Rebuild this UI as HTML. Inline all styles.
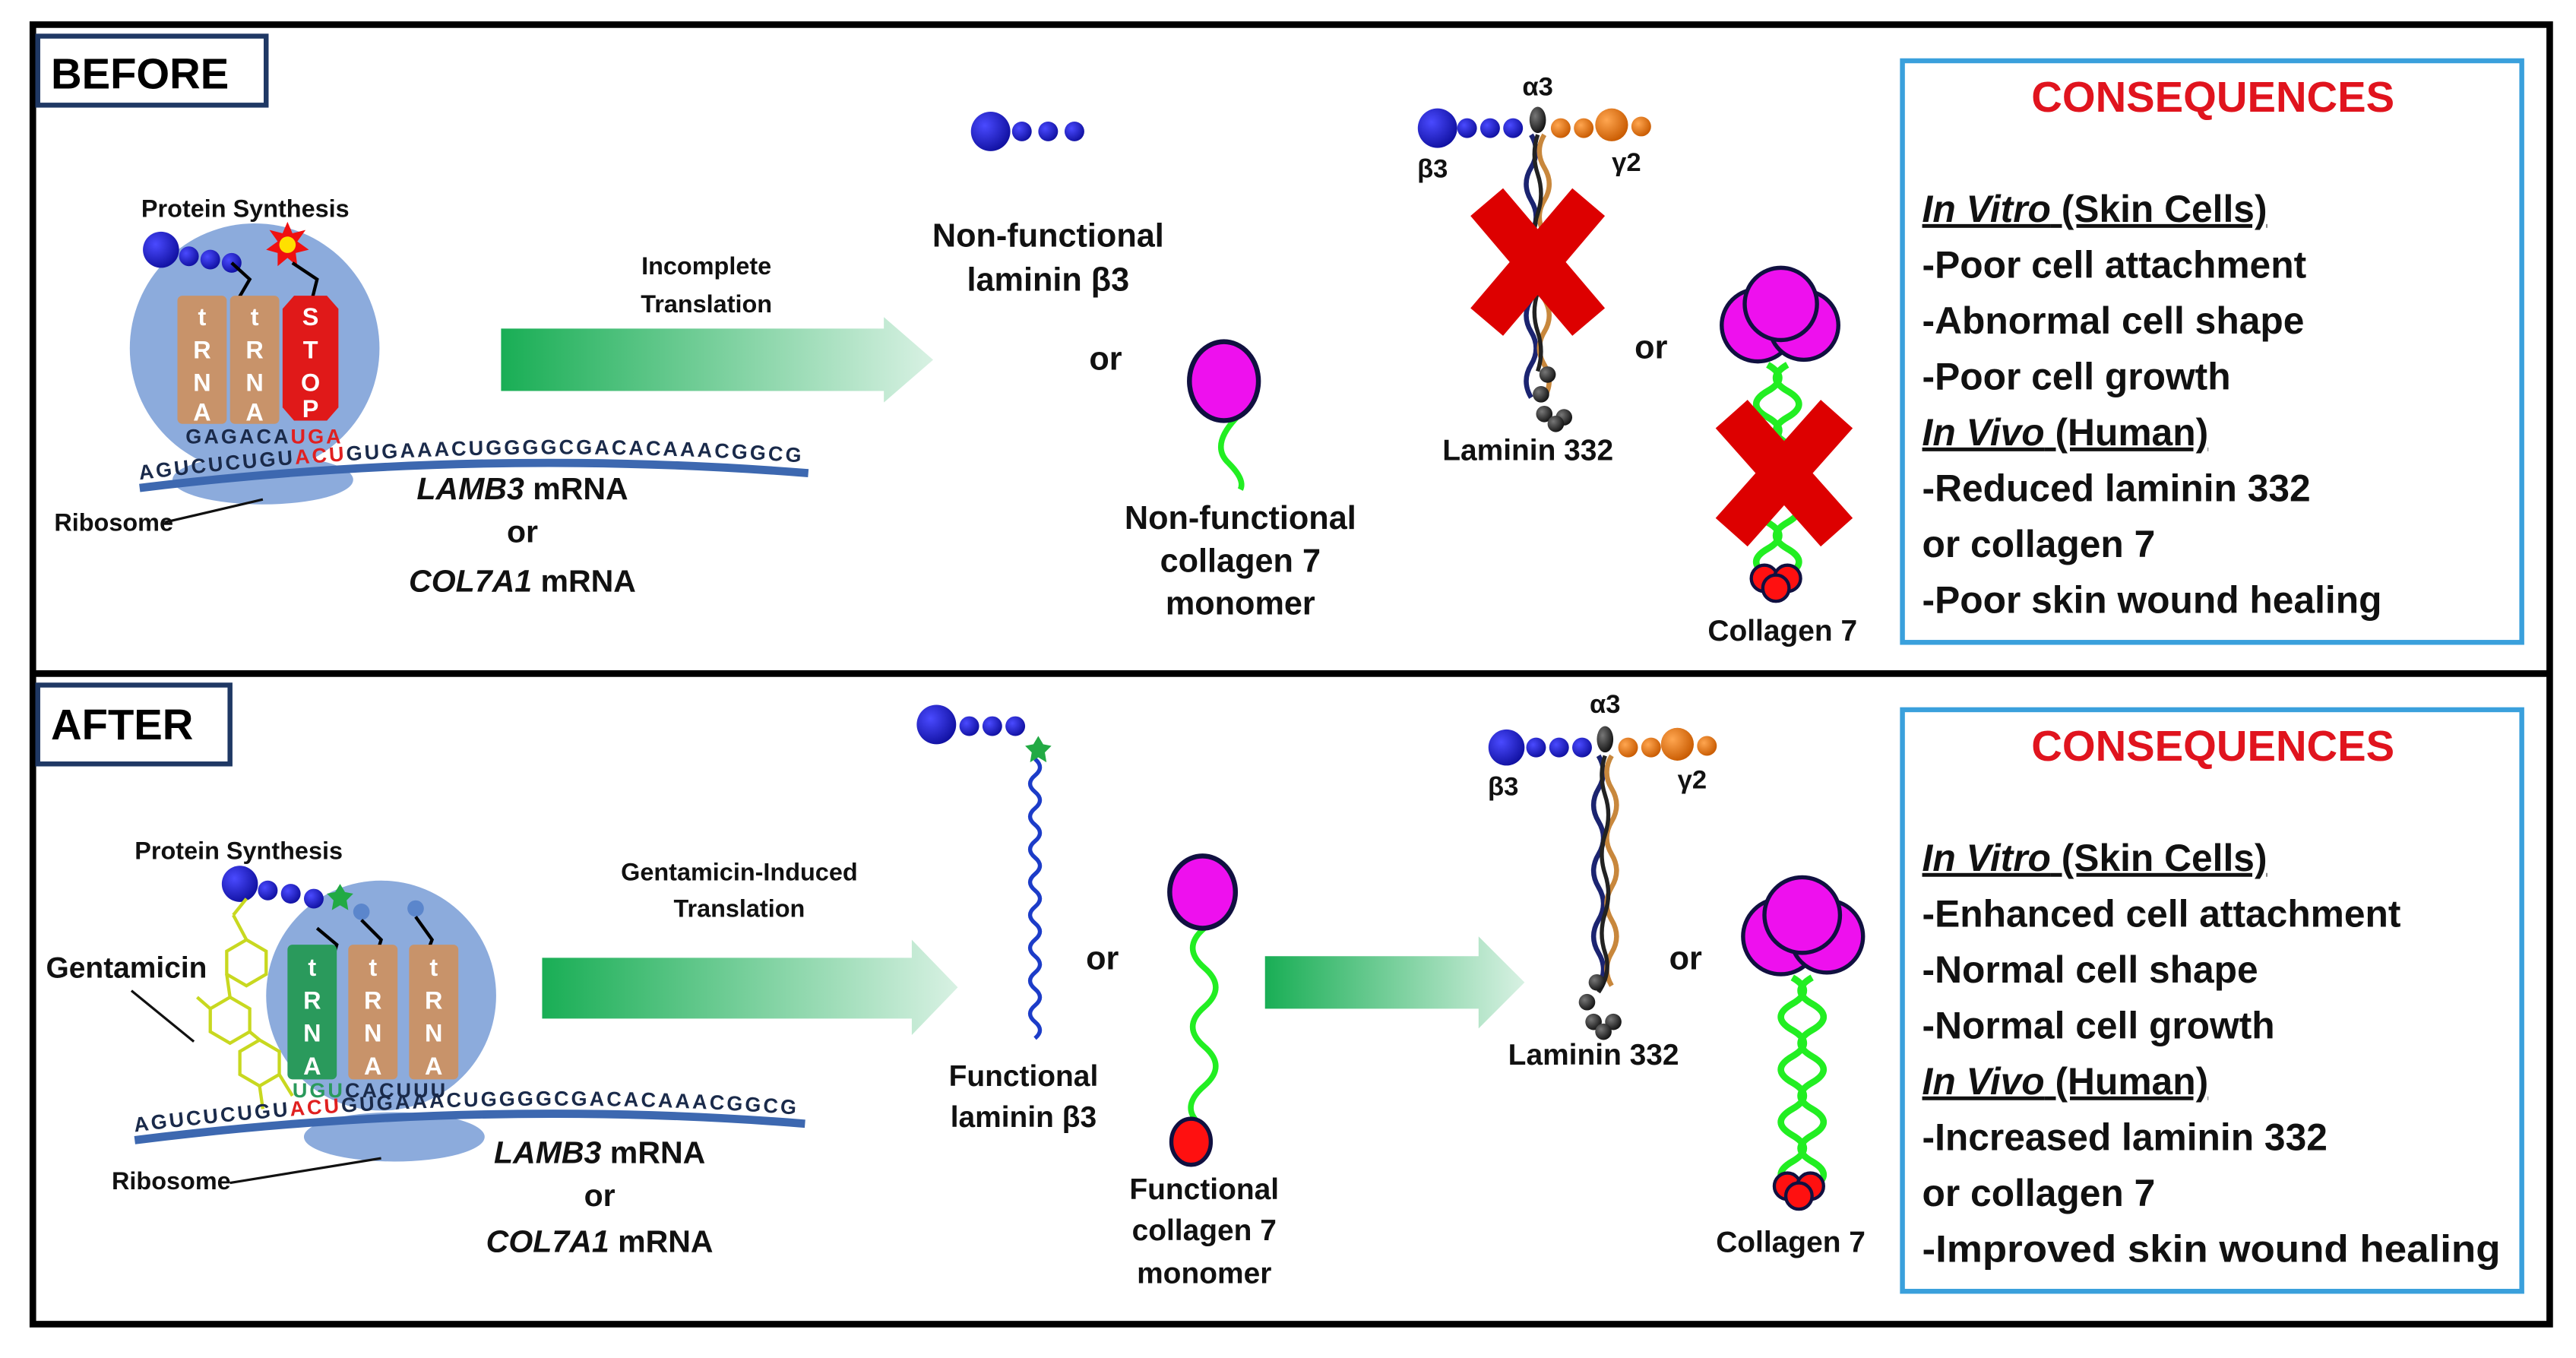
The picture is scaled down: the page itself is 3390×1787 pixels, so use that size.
<!DOCTYPE html>
<html><head><meta charset="utf-8"><style>
html,body{margin:0;padding:0;background:#fff;}
svg{display:block;}
text{font-family:"Liberation Sans",Arial,sans-serif;font-weight:bold;}
.c{font-size:23px;fill:#111;}
.lab{font-size:19px;fill:#111;}
.seq{font-size:12.5px;fill:#1a2a4a;letter-spacing:1.4px;}
.tr{font-size:15px;fill:#fff;font-weight:normal;}
</style></head><body>
<svg width="3390" height="1787" viewBox="0 0 1568 826.6" preserveAspectRatio="none" xmlns="http://www.w3.org/2000/svg">
<defs>
<linearGradient id="g" x1="0" x2="1" y1="0" y2="0"><stop offset="0" stop-color="#19ae55"/><stop offset="1" stop-color="#d8f1e3"/></linearGradient>
<radialGradient id="bb" cx="0.35" cy="0.35" r="0.7"><stop offset="0" stop-color="#4a4aff"/><stop offset="1" stop-color="#1010a0"/></radialGradient>
<radialGradient id="ob" cx="0.35" cy="0.35" r="0.7"><stop offset="0" stop-color="#ffa650"/><stop offset="1" stop-color="#c85a00"/></radialGradient>
<radialGradient id="kb" cx="0.35" cy="0.35" r="0.7"><stop offset="0" stop-color="#777"/><stop offset="1" stop-color="#111"/></radialGradient>
<path id="m1" d="M85,292 Q290,267 495,282"/>
<path id="m2" d="M82,689 Q290,663 493,679"/>
</defs>
<rect width="1568" height="826.6" fill="#fff"/>
<rect x="20" y="15" width="1532" height="791" fill="none" stroke="#000" stroke-width="4"/>
<line x1="20" y1="410" x2="1552" y2="410" stroke="#000" stroke-width="4"/>

<rect x="23" y="22" width="139" height="42" fill="#fff" stroke="#1f3864" stroke-width="3"/>
<text x="31" y="54" font-size="26" fill="#000">BEFORE</text>
<rect x="23" y="417" width="117" height="48" fill="#fff" stroke="#1f3864" stroke-width="3"/>
<text x="31" y="450" font-size="26" fill="#000">AFTER</text>

<rect x="1158" y="37" width="377" height="354" fill="#fff" stroke="#3aa0dc" stroke-width="3"/>
<text x="1347" y="68" font-size="26" fill="#e0141e" text-anchor="middle">CONSEQUENCES</text>
<text class="c" x="1170" y="135" text-decoration="underline"><tspan font-style="italic">In Vitro</tspan> (Skin Cells)</text>
<text class="c" x="1170" y="169">-Poor cell attachment</text>
<text class="c" x="1170" y="203">-Abnormal cell shape</text>
<text class="c" x="1170" y="237">-Poor cell growth</text>
<text class="c" x="1170" y="271" text-decoration="underline"><tspan font-style="italic">In Vivo</tspan> (Human)</text>
<text class="c" x="1170" y="305">-Reduced laminin 332</text>
<text class="c" x="1170" y="339">or collagen 7</text>
<text class="c" x="1170" y="373">-Poor skin wound healing</text>

<rect x="1158" y="432" width="377" height="354" fill="#fff" stroke="#3aa0dc" stroke-width="3"/>
<text x="1347" y="463" font-size="26" fill="#e0141e" text-anchor="middle">CONSEQUENCES</text>
<text class="c" x="1170" y="530" text-decoration="underline"><tspan font-style="italic">In Vitro</tspan> (Skin Cells)</text>
<text class="c" x="1170" y="564">-Enhanced cell attachment</text>
<text class="c" x="1170" y="598">-Normal cell shape</text>
<text class="c" x="1170" y="632">-Normal cell growth</text>
<text class="c" x="1170" y="666" text-decoration="underline"><tspan font-style="italic">In Vivo</tspan> (Human)</text>
<text class="c" x="1170" y="700">-Increased laminin 332</text>
<text class="c" x="1170" y="734">or collagen 7</text>
<text class="c" x="1170" y="768" textLength="352" lengthAdjust="spacingAndGlyphs">-Improved skin wound healing</text>

<circle cx="155" cy="212" r="76" fill="#8cabdc"/>
<ellipse cx="160" cy="292" rx="55" ry="15" fill="#8cabdc"/>
<text x="86" y="132" font-size="15" fill="#111">Protein Synthesis</text>
<circle cx="98" cy="152" r="11" fill="url(#bb)"/><circle cx="115" cy="156" r="6" fill="url(#bb)"/><circle cx="128" cy="158" r="6" fill="url(#bb)"/><circle cx="141" cy="160" r="6" fill="url(#bb)"/>
<polygon points="175,135 178,142 186,140 181,147 188,152 180,154 181,162 175,157 169,162 169,154 162,152 169,147 164,140 172,142" fill="#f01010"/>
<circle cx="175" cy="149" r="5" fill="#ffe000"/>
<polyline points="141,160 152,170 145,182" fill="none" stroke="#000" stroke-width="2"/>
<polyline points="178,160 193,170 190,182" fill="none" stroke="#000" stroke-width="2"/>
<rect x="108" y="180" width="30" height="78" rx="3" fill="#c8936a"/>
<rect x="140" y="180" width="30" height="78" rx="3" fill="#c8936a"/>
<polygon points="179,180 199,180 206,188 206,248 199,256 179,256 172,248 172,188" fill="#e01919"/>
<g class="tr" text-anchor="middle"><text x="123" y="198">t</text><text x="123" y="218">R</text><text x="123" y="238">N</text><text x="123" y="256">A</text>
<text x="155" y="198">t</text><text x="155" y="218">R</text><text x="155" y="238">N</text><text x="155" y="256">A</text>
<text x="189" y="198">S</text><text x="189" y="218">T</text><text x="189" y="238">O</text><text x="189" y="254">P</text></g>
<text class="seq" x="113" y="270">GAGACA<tspan fill="#e02020">UGA</tspan></text>
<path d="M85,297 Q290,272 492,288" fill="none" stroke="#3d68b0" stroke-width="5"/>
<text class="seq"><textPath href="#m1">AGUCUCUGU<tspan fill="#e02020">ACU</tspan>GUGAAACUGGGGCGACACAAACGGCG</textPath></text>
<text x="33" y="323" font-size="15" fill="#111">Ribosome</text>
<line x1="100" y1="318" x2="160" y2="304" stroke="#111" stroke-width="1.5"/>
<text class="lab" x="318" y="304" text-anchor="middle"><tspan font-style="italic">LAMB3</tspan> mRNA</text>
<text class="lab" x="318" y="330" text-anchor="middle">or</text>
<text class="lab" x="318" y="360" text-anchor="middle"><tspan font-style="italic">COL7A1</tspan> mRNA</text>
<polygon points="305,200 538,200 538,193 568,219 538,245 538,238 305,238" fill="url(#g)"/>
<text x="430" y="167" font-size="15" text-anchor="middle" fill="#111">Incomplete</text>
<text x="430" y="190" font-size="15" text-anchor="middle" fill="#111">Translation</text>
<circle cx="603" cy="80" r="12" fill="url(#bb)"/><circle cx="622" cy="80" r="6" fill="url(#bb)"/><circle cx="638" cy="80" r="6" fill="url(#bb)"/><circle cx="654" cy="80" r="6" fill="url(#bb)"/>
<text x="638" y="150" font-size="20" text-anchor="middle" fill="#111">Non-functional</text>
<text x="638" y="177" font-size="20" text-anchor="middle" fill="#111">laminin β3</text>
<text x="673" y="225" font-size="20" text-anchor="middle" fill="#111">or</text>
<path d="M757,250 Q735,270 748,282 Q758,292 755,298" fill="none" stroke="#22ee22" stroke-width="3.5"/>
<ellipse cx="745" cy="232" rx="21" ry="24" fill="#ee10ee" stroke="#101040" stroke-width="3"/>
<text x="755" y="322" font-size="20" text-anchor="middle" fill="#111">Non-functional</text>
<text x="755" y="348" font-size="20" text-anchor="middle" fill="#111">collagen 7</text>
<text x="755" y="374" font-size="20" text-anchor="middle" fill="#111">monomer</text>
<path d="M932,82 q6,10 0,20 t0,20 t0,20 t0,20 t0,20 t0,20 t0,20 t0,20" fill="none" stroke="#1b2470" stroke-width="3"/>
<path d="M940,82 q-6,10 0,20 t0,20 t0,20 t0,20 t0,20 t0,20 t0,20 t0,20" fill="none" stroke="#c8873c" stroke-width="3"/>
<path d="M936,82 q-4,12 0,24 t0,24 t0,24 t0,24 t0,24 t0,24" fill="none" stroke="#222" stroke-width="2.5"/>
<circle cx="942" cy="228" r="5" fill="url(#kb)"/><circle cx="938" cy="240" r="5" fill="url(#kb)"/><circle cx="940" cy="252" r="5" fill="url(#kb)"/><circle cx="952" cy="254" r="5" fill="url(#kb)"/><circle cx="947" cy="258" r="5" fill="url(#kb)"/>
<circle cx="875" cy="78" r="12" fill="url(#bb)"/><circle cx="893" cy="78" r="6" fill="url(#bb)"/><circle cx="907" cy="78" r="6" fill="url(#bb)"/><circle cx="921" cy="78" r="6" fill="url(#bb)"/>
<ellipse cx="936" cy="73" rx="5" ry="8" fill="url(#kb)"/>
<circle cx="950" cy="78" r="6" fill="url(#ob)"/><circle cx="964" cy="78" r="6" fill="url(#ob)"/><circle cx="981" cy="76" r="10" fill="url(#ob)"/><circle cx="999" cy="77" r="6" fill="url(#ob)"/>
<text x="936" y="58" font-size="16" text-anchor="middle" fill="#111">α3</text>
<text x="872" y="108" font-size="16" text-anchor="middle" fill="#111">β3</text>
<text x="990" y="104" font-size="16" text-anchor="middle" fill="#111">γ2</text>
<g stroke="#dd0000" stroke-width="26" stroke-linecap="butt"><line x1="905" y1="123" x2="967" y2="196"/><line x1="967" y1="123" x2="905" y2="196"/></g>
<text x="930" y="280" font-size="18" text-anchor="middle" fill="#111">Laminin 332</text>
<text x="1005" y="218" font-size="20" text-anchor="middle" fill="#111">or</text>
<path d="M1076,222 q14,8 0,16 t0,16 t0,16 t0,16 t0,16 t0,16 t0,16 t0,16" fill="none" stroke="#22ee22" stroke-width="4"/>
<path d="M1088,222 q-14,8 0,16 t0,16 t0,16 t0,16 t0,16 t0,16 t0,16 t0,16" fill="none" stroke="#22ee22" stroke-width="4"/>
<circle cx="1070" cy="198" r="22" fill="#ee10ee" stroke="#101040" stroke-width="2.5"/>
<circle cx="1098" cy="198" r="21" fill="#ee10ee" stroke="#101040" stroke-width="2.5"/>
<circle cx="1084" cy="185" r="22" fill="#ee10ee" stroke="#101040" stroke-width="2.5"/>
<circle cx="1074" cy="352" r="8" fill="#ff1010" stroke="#101040" stroke-width="2"/><circle cx="1088" cy="352" r="8" fill="#ff1010" stroke="#101040" stroke-width="2"/><circle cx="1081" cy="358" r="8" fill="#ff1010" stroke="#101040" stroke-width="2"/>
<g stroke="#dd0000" stroke-width="26"><line x1="1054" y1="252" x2="1118" y2="324"/><line x1="1118" y1="252" x2="1054" y2="324"/></g>
<text x="1085" y="390" font-size="18" text-anchor="middle" fill="#111">Collagen 7</text>

<circle cx="232" cy="606" r="70" fill="#8cabdc"/>
<ellipse cx="240" cy="692" rx="55" ry="15" fill="#8cabdc"/>
<text x="82" y="523" font-size="15" fill="#111">Protein Synthesis</text>
<circle cx="146" cy="538" r="11" fill="url(#bb)"/><circle cx="163" cy="542" r="6" fill="url(#bb)"/><circle cx="177" cy="544" r="6" fill="url(#bb)"/><circle cx="191" cy="547" r="6" fill="url(#bb)"/>
<polygon points="207,538 210,543 215,544 211,548 212,554 207,551 202,554 203,548 199,544 204,543" fill="#22aa44"/>
<circle cx="220" cy="555" r="5" fill="#5b86cc"/><circle cx="253" cy="553" r="5" fill="#5b86cc"/>
<polyline points="193,565 205,575 202,585" fill="none" stroke="#000" stroke-width="2"/>
<polyline points="220,560 232,572 228,585" fill="none" stroke="#000" stroke-width="2"/>
<polyline points="253,558 263,572 258,585" fill="none" stroke="#000" stroke-width="2"/>
<rect x="175" y="575" width="30" height="82" rx="3" fill="#2a9a5c"/>
<rect x="212" y="575" width="30" height="82" rx="3" fill="#c8936a"/>
<rect x="249" y="575" width="30" height="82" rx="3" fill="#c8936a"/>
<g class="tr" text-anchor="middle"><text x="190" y="594">t</text><text x="190" y="614">R</text><text x="190" y="634">N</text><text x="190" y="654">A</text>
<text x="227" y="594">t</text><text x="227" y="614">R</text><text x="227" y="634">N</text><text x="227" y="654">A</text>
<text x="264" y="594">t</text><text x="264" y="614">R</text><text x="264" y="634">N</text><text x="264" y="654">A</text></g>
<text class="seq" x="178" y="668"><tspan fill="#2a9a5c">UGU</tspan>CACUUU</text>
<g fill="none" stroke="#c8d820" stroke-width="2">
<polygon points="150,572 162,579 162,593 150,600 138,593 138,579"/>
<polygon points="140,607 152,614 152,628 140,635 128,628 128,614"/>
<polygon points="158,633 170,640 170,654 158,661 146,654 146,640"/>
<line x1="150" y1="572" x2="142" y2="557"/><line x1="142" y1="557" x2="150" y2="547"/>
<line x1="138" y1="593" x2="140" y2="607"/><line x1="152" y1="628" x2="158" y2="633"/>
<line x1="170" y1="654" x2="178" y2="667"/><line x1="158" y1="661" x2="160" y2="675"/>
<line x1="128" y1="614" x2="120" y2="607"/>
</g>
<text x="28" y="595" font-size="18" fill="#111">Gentamicin</text>
<line x1="80" y1="603" x2="118" y2="634" stroke="#111" stroke-width="1.5"/>
<path d="M82,694 Q290,668 490,684" fill="none" stroke="#3d68b0" stroke-width="5"/>
<text class="seq"><textPath href="#m2">AGUCUCUGU<tspan fill="#e02020">ACU</tspan>GUGAAACUGGGGCGACACAAACGGCG</textPath></text>
<text x="68" y="724" font-size="15" fill="#111">Ribosome</text>
<line x1="140" y1="720" x2="232" y2="705" stroke="#111" stroke-width="1.5"/>
<text class="lab" x="365" y="708" text-anchor="middle"><tspan font-style="italic">LAMB3</tspan> mRNA</text>
<text class="lab" x="365" y="734" text-anchor="middle">or</text>
<text class="lab" x="365" y="762" text-anchor="middle"><tspan font-style="italic">COL7A1</tspan> mRNA</text>
<polygon points="330,583 555,583 555,572 583,601 555,630 555,620 330,620" fill="url(#g)"/>
<text x="450" y="536" font-size="15" text-anchor="middle" fill="#111">Gentamicin-Induced</text>
<text x="450" y="558" font-size="15" text-anchor="middle" fill="#111">Translation</text>
<path d="M630,462 q6,5 0,10 t0,10 t0,10 t0,10 t0,10 t0,10 t0,10 t0,10 t0,10 t0,10 t0,10 t0,10 t0,10 t0,10 t0,10 t0,10 t0,10" fill="none" stroke="#1c3cc8" stroke-width="2.5"/>
<circle cx="570" cy="441" r="12" fill="url(#bb)"/><circle cx="590" cy="442" r="6" fill="url(#bb)"/><circle cx="604" cy="442" r="6" fill="url(#bb)"/><circle cx="618" cy="442" r="6" fill="url(#bb)"/>
<polygon points="632,448 635,453 640,454 636,458 637,464 632,461 627,464 628,458 624,454 629,453" fill="#22aa44"/>
<text x="623" y="661" font-size="18" text-anchor="middle" fill="#111">Functional</text>
<text x="623" y="686" font-size="18" text-anchor="middle" fill="#111">laminin β3</text>
<text x="671" y="590" font-size="20" text-anchor="middle" fill="#111">or</text>
<path d="M733,565 q-14,12 0,24 t0,24 t0,24 t0,24 t-4,22" fill="none" stroke="#22ee22" stroke-width="3.5"/>
<ellipse cx="732" cy="543" rx="20" ry="22" fill="#ee10ee" stroke="#101040" stroke-width="3"/>
<ellipse cx="725" cy="695" rx="12" ry="14" fill="#ff1010" stroke="#101040" stroke-width="2.5"/>
<text x="733" y="730" font-size="18" text-anchor="middle" fill="#111">Functional</text>
<text x="733" y="755" font-size="18" text-anchor="middle" fill="#111">collagen 7</text>
<text x="733" y="781" font-size="18" text-anchor="middle" fill="#111">monomer</text>
<polygon points="770,582 900,582 900,570 928,598 900,626 900,614 770,614" fill="url(#g)"/>
<path d="M973,460 q6,10 0,20 t0,20 t0,20 t0,20 t0,20 t0,20 t0,20" fill="none" stroke="#1b2470" stroke-width="3"/>
<path d="M981,460 q-6,10 0,20 t0,20 t0,20 t0,20 t0,20 t0,20 t0,20" fill="none" stroke="#c8873c" stroke-width="3"/>
<path d="M977,460 q-4,12 0,24 t0,24 t0,24 t0,24 t0,24 t-4,24" fill="none" stroke="#222" stroke-width="2.5"/>
<circle cx="972" cy="598" r="5" fill="url(#kb)"/><circle cx="966" cy="610" r="5" fill="url(#kb)"/><circle cx="970" cy="622" r="5" fill="url(#kb)"/><circle cx="982" cy="622" r="5" fill="url(#kb)"/><circle cx="976" cy="628" r="5" fill="url(#kb)"/>
<circle cx="917" cy="455" r="11" fill="url(#bb)"/><circle cx="935" cy="455" r="6" fill="url(#bb)"/><circle cx="949" cy="455" r="6" fill="url(#bb)"/><circle cx="963" cy="455" r="6" fill="url(#bb)"/>
<ellipse cx="977" cy="450" rx="5" ry="8" fill="url(#kb)"/>
<circle cx="991" cy="455" r="6" fill="url(#ob)"/><circle cx="1005" cy="455" r="6" fill="url(#ob)"/><circle cx="1021" cy="453" r="10" fill="url(#ob)"/><circle cx="1039" cy="454" r="6" fill="url(#ob)"/>
<text x="977" y="434" font-size="16" text-anchor="middle" fill="#111">α3</text>
<text x="915" y="484" font-size="16" text-anchor="middle" fill="#111">β3</text>
<text x="1030" y="480" font-size="16" text-anchor="middle" fill="#111">γ2</text>
<text x="970" y="648" font-size="18" text-anchor="middle" fill="#111">Laminin 332</text>
<text x="1026" y="590" font-size="20" text-anchor="middle" fill="#111">or</text>
<path d="M1091,595 q14,8 0,16 t0,16 t0,16 t0,16 t0,16 t0,16 t0,16 t0,16" fill="none" stroke="#22ee22" stroke-width="4"/>
<path d="M1103,595 q-14,8 0,16 t0,16 t0,16 t0,16 t0,16 t0,16 t0,16 t0,16" fill="none" stroke="#22ee22" stroke-width="4"/>
<circle cx="1084" cy="570" r="23" fill="#ee10ee" stroke="#101040" stroke-width="2.5"/>
<circle cx="1112" cy="570" r="22" fill="#ee10ee" stroke="#101040" stroke-width="2.5"/>
<circle cx="1097" cy="557" r="23" fill="#ee10ee" stroke="#101040" stroke-width="2.5"/>
<circle cx="1088" cy="722" r="8" fill="#ff1010" stroke="#101040" stroke-width="2"/><circle cx="1102" cy="722" r="8" fill="#ff1010" stroke="#101040" stroke-width="2"/><circle cx="1095" cy="728" r="8" fill="#ff1010" stroke="#101040" stroke-width="2"/>
<text x="1090" y="762" font-size="18" text-anchor="middle" fill="#111">Collagen 7</text>
</svg>
</body></html>
